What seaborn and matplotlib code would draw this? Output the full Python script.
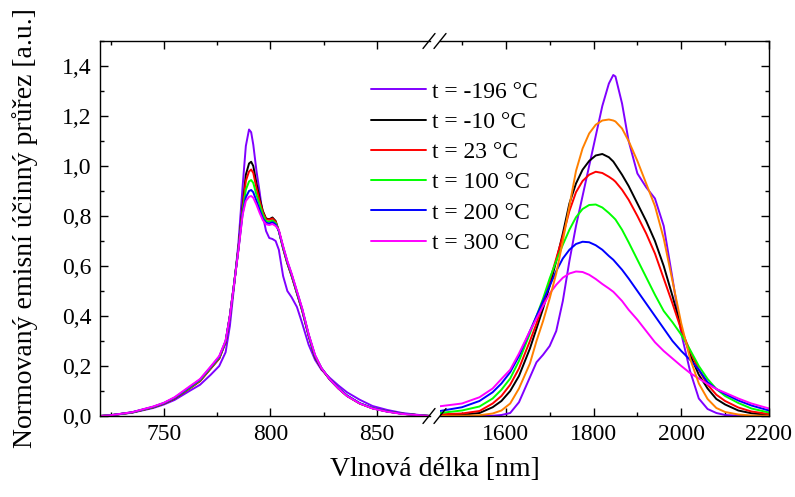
import matplotlib
matplotlib.use("Agg")
import matplotlib.pyplot as plt
from matplotlib.lines import Line2D
from matplotlib.ticker import FuncFormatter
import seaborn as sns

# ---------------- data ----------------
labels = ["t = -196 °C", "t = -10 °C", "t = 23 °C", "t = 100 °C", "t = 200 °C", "t = 300 °C"]
colors = ["#8000FF", "#000000", "#FF0000", "#00FF00", "#0000FF", "#FF00FF"]
extra_color = "#FF8000"

x_left = [720, 725, 735, 745, 750, 755, 762, 767, 772, 776, 779, 781, 783, 785, 787, 788.5,
          790, 791, 792, 793.5, 795, 796.5, 798, 799.5, 801, 802.5, 804, 806, 808, 810, 812.5,
          815, 818, 821, 824, 828, 832, 836, 842, 848, 855, 862, 870, 875]

left_m196 = [0.000, 0.003, 0.013, 0.032, 0.046, 0.064, 0.100, 0.125, 0.165, 0.200, 0.255, 0.360,
             0.520, 0.690, 0.920, 1.080, 1.146, 1.135, 1.085, 0.980, 0.895, 0.800, 0.740, 0.712,
             0.708, 0.700, 0.665, 0.560, 0.500, 0.475, 0.436, 0.370, 0.285, 0.225, 0.185, 0.152,
             0.122, 0.095, 0.065, 0.040, 0.024, 0.012, 0.004, 0.000]
left_m10 = [0.000, 0.003, 0.014, 0.035, 0.050, 0.070, 0.110, 0.140, 0.190, 0.230, 0.295, 0.400,
            0.530, 0.670, 0.840, 0.965, 1.010, 1.017, 1.000, 0.930, 0.870, 0.820, 0.790, 0.787,
            0.794, 0.780, 0.740, 0.670, 0.610, 0.560, 0.490, 0.420, 0.320, 0.235, 0.190, 0.145,
            0.110, 0.080, 0.050, 0.031, 0.018, 0.009, 0.003, 0.000]
left_23 = [0.000, 0.003, 0.014, 0.035, 0.050, 0.070, 0.110, 0.140, 0.190, 0.230, 0.295, 0.400,
           0.530, 0.670, 0.830, 0.940, 0.978, 0.986, 0.972, 0.912, 0.860, 0.815, 0.787, 0.785,
           0.790, 0.777, 0.740, 0.672, 0.612, 0.562, 0.492, 0.422, 0.322, 0.237, 0.190, 0.145,
           0.110, 0.081, 0.050, 0.031, 0.018, 0.009, 0.003, 0.000]
left_100 = [0.000, 0.003, 0.014, 0.036, 0.051, 0.072, 0.112, 0.143, 0.193, 0.234, 0.298, 0.400,
            0.530, 0.668, 0.820, 0.905, 0.938, 0.944, 0.932, 0.885, 0.845, 0.805, 0.780, 0.777,
            0.782, 0.772, 0.740, 0.675, 0.615, 0.565, 0.495, 0.425, 0.325, 0.240, 0.192, 0.146,
            0.111, 0.082, 0.051, 0.031, 0.018, 0.009, 0.003, 0.000]
left_200 = [0.000, 0.003, 0.015, 0.037, 0.052, 0.073, 0.115, 0.146, 0.196, 0.237, 0.300, 0.400,
            0.530, 0.665, 0.810, 0.875, 0.900, 0.904, 0.895, 0.860, 0.825, 0.790, 0.773, 0.770,
            0.775, 0.766, 0.740, 0.677, 0.617, 0.567, 0.497, 0.427, 0.325, 0.242, 0.192, 0.146,
            0.111, 0.082, 0.051, 0.031, 0.018, 0.009, 0.003, 0.000]
left_300 = [0.000, 0.003, 0.015, 0.038, 0.053, 0.075, 0.118, 0.148, 0.198, 0.240, 0.302, 0.400,
            0.528, 0.662, 0.805, 0.860, 0.877, 0.880, 0.873, 0.845, 0.812, 0.783, 0.767, 0.764,
            0.768, 0.760, 0.745, 0.680, 0.620, 0.570, 0.500, 0.430, 0.328, 0.245, 0.192, 0.146,
            0.110, 0.080, 0.050, 0.030, 0.017, 0.008, 0.003, 0.000]

x_right = [1450, 1500, 1540, 1570, 1590, 1610, 1630, 1655, 1670, 1685, 1700, 1715, 1730, 1745,
           1760, 1775, 1790, 1805, 1820, 1835, 1845, 1850, 1865, 1880, 1900, 1920, 1940, 1960,
           1980, 2000, 2020, 2040, 2060, 2080, 2100, 2130, 2160, 2200]

right_m196 = [0.000, 0.000, 0.000, 0.001, 0.004, 0.012, 0.055, 0.155, 0.215, 0.245, 0.280, 0.340,
              0.460, 0.620, 0.760, 0.880, 1.000, 1.120, 1.240, 1.330, 1.364, 1.358, 1.250, 1.100,
              0.970, 0.915, 0.870, 0.760, 0.550, 0.330, 0.180, 0.070, 0.028, 0.012, 0.004, 0.001,
              0.000, 0.000]
right_m10 = [0.003, 0.005, 0.012, 0.035, 0.060, 0.100, 0.160, 0.270, 0.350, 0.430, 0.520, 0.620,
             0.730, 0.850, 0.930, 0.985, 1.020, 1.042, 1.048, 1.035, 1.018, 1.005, 0.965, 0.920,
             0.850, 0.780, 0.700, 0.600, 0.480, 0.350, 0.245, 0.165, 0.110, 0.068, 0.046, 0.022,
             0.011, 0.004]
right_23 = [0.007, 0.010, 0.020, 0.050, 0.080, 0.125, 0.190, 0.300, 0.370, 0.450, 0.540, 0.630,
            0.720, 0.820, 0.895, 0.940, 0.965, 0.977, 0.972, 0.957, 0.945, 0.937, 0.905, 0.865,
            0.800, 0.730, 0.650, 0.550, 0.450, 0.345, 0.260, 0.185, 0.125, 0.085, 0.060, 0.034,
            0.018, 0.008]
right_100 = [0.012, 0.022, 0.038, 0.070, 0.105, 0.150, 0.220, 0.330, 0.400, 0.470, 0.550, 0.620,
             0.685, 0.745, 0.795, 0.828, 0.844, 0.846, 0.834, 0.812, 0.795, 0.786, 0.745, 0.695,
             0.625, 0.555, 0.485, 0.420, 0.375, 0.325, 0.265, 0.200, 0.148, 0.108, 0.080, 0.052,
             0.030, 0.014]
right_200 = [0.020, 0.035, 0.060, 0.095, 0.130, 0.175, 0.240, 0.340, 0.400, 0.460, 0.520, 0.580,
             0.630, 0.665, 0.688, 0.697, 0.695, 0.683, 0.665, 0.640, 0.625, 0.615, 0.585, 0.550,
             0.500, 0.450, 0.400, 0.350, 0.300, 0.260, 0.225, 0.185, 0.135, 0.108, 0.088, 0.062,
             0.042, 0.022]
right_300 = [0.039, 0.050, 0.075, 0.110, 0.148, 0.185, 0.250, 0.340, 0.390, 0.440, 0.490, 0.525,
             0.553, 0.570, 0.578, 0.576, 0.565, 0.548, 0.528, 0.510, 0.497, 0.488, 0.460, 0.425,
             0.385, 0.340, 0.295, 0.260, 0.230, 0.200, 0.172, 0.150, 0.128, 0.108, 0.093, 0.070,
             0.050, 0.030]
right_extra = [0.000, 0.001, 0.003, 0.010, 0.022, 0.050, 0.110, 0.210, 0.300, 0.380, 0.470, 0.570,
               0.700, 0.840, 0.980, 1.070, 1.130, 1.165, 1.182, 1.186, 1.182, 1.178, 1.150, 1.100,
               1.020, 0.930, 0.840, 0.710, 0.540, 0.370, 0.230, 0.130, 0.068, 0.032, 0.016, 0.006,
               0.002, 0.001]

left_series = [left_m196, left_m10, left_23, left_100, left_200, left_300]
right_series = [right_m196, right_m10, right_23, right_100, right_200, right_300]

y_ticks = [0.0, 0.2, 0.4, 0.6, 0.8, 1.0, 1.2, 1.4]
y_minor = [0.1, 0.3, 0.5, 0.7, 0.9, 1.1, 1.3, 1.5]
xl_ticks = [750, 800, 850]
xl_minor = [725, 775, 825]
xr_ticks = [1600, 1800, 2000, 2200]
xr_minor = [1500, 1700, 1900, 2100]

# ---------------- style ----------------
sns.set_style("ticks")
plt.rcParams["font.family"] = ["Liberation Serif", "DejaVu Serif"]
plt.rcParams["axes.linewidth"] = 1.0
plt.rcParams["text.color"] = "black"
plt.rcParams["axes.labelcolor"] = "black"
plt.rcParams["xtick.color"] = "black"
plt.rcParams["ytick.color"] = "black"

W, H = 795, 497
fig = plt.figure(figsize=(W / 100, H / 100), dpi=100)
axL = fig.add_axes([100 / W, 1 - 416 / H, 330 / W, 375 / H])
axR = fig.add_axes([440 / W, 1 - 416 / H, 329 / W, 375 / H])

lw = 1.4
for y, c, lab in zip(left_series, colors, labels):
    sns.lineplot(x=x_left, y=y, color=c, linewidth=lw, ax=axL, label=lab, legend=False)
for y, c in zip(right_series, colors):
    sns.lineplot(x=x_right, y=y, color=c, linewidth=lw, ax=axR, legend=False)
sns.lineplot(x=x_right, y=right_extra, color=extra_color, linewidth=lw, ax=axR, legend=False)

for ax in (axL, axR):
    ax.set_ylim(0, 1.5)
    ax.set_yticks(y_ticks)
    ax.set_yticks(y_minor, minor=True)
    ax.set_xlabel("")
    ax.set_ylabel("")
    for s in ax.spines.values():
        s.set_color("black")
        s.set_linewidth(1.0)
    ax.tick_params(which="major", direction="in", length=5.5, width=1.0, colors="black",
                   labelcolor="black", labelsize=17, pad=6)
    ax.tick_params(which="minor", direction="in", length=3, width=1.0, colors="black")

axL.set_xlim(720, 875)
axL.set_xticks(xl_ticks)
axL.set_xticks(xl_minor, minor=True)
axL.spines["right"].set_visible(False)
axL.tick_params(which="both", top=True, bottom=True, left=True, right=False)
axL.yaxis.set_major_formatter(FuncFormatter(lambda v, p: f"{v:.1f}".replace(".", ",")))

axR.set_xlim(1450, 2200)
axR.set_xticks(xr_ticks)
axR.set_xticks(xr_minor, minor=True)
axR.spines["left"].set_visible(False)
axR.tick_params(which="both", top=True, bottom=True, left=False, right=True,
                labelleft=False, labelright=False)

# break marks
for cx in (429, 440):
    for cy in (41, 416):
        fig.add_artist(Line2D([(cx - 6) / W, (cx + 6) / W],
                              [1 - (cy + 7.5) / H, 1 - (cy - 7.5) / H],
                              color="black", linewidth=1.0, transform=fig.transFigure))

fig.text(435 / W, 1 - 470 / H, "Vlnová délka [nm]", ha="center", va="center", fontsize=20,
         color="black")
fig.text(25 / W, 1 - 228 / H, "Normovaný emisní účinný průřez [a.u.]", ha="center",
         va="center", rotation=90, fontsize=20, color="black")

handles = [Line2D([], [], color=c, linewidth=lw) for c in colors]
fig.legend(handles, labels, loc="upper left", bbox_to_anchor=(371 / W, 1 - 81 / H),
           frameon=False, fontsize=17, handlelength=2.35, handletextpad=0.25,
           labelspacing=0.37, borderpad=0, borderaxespad=0, labelcolor="black")

fig.savefig("out.png", dpi=100)
